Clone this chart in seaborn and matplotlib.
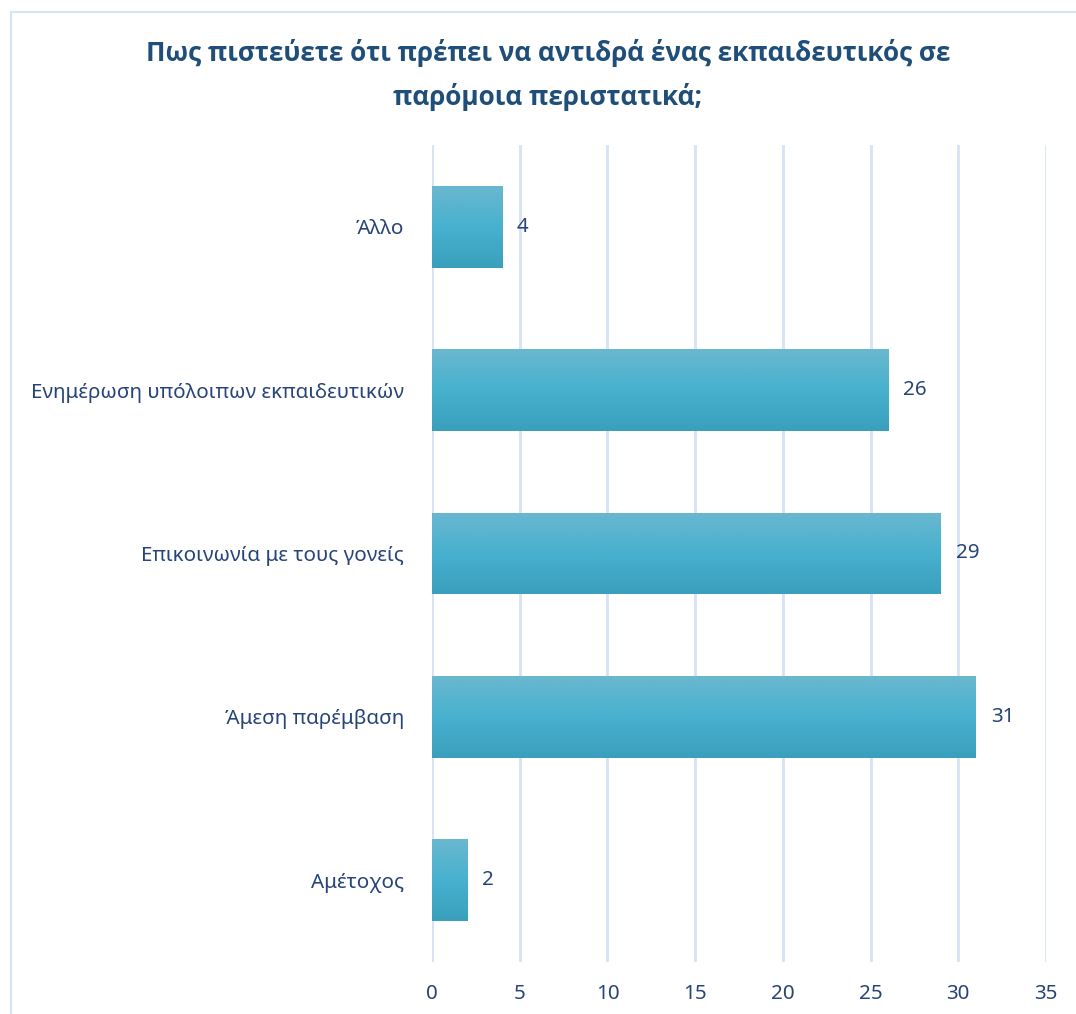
import matplotlib
matplotlib.use("Agg")
import matplotlib.pyplot as plt
import seaborn as sns
import numpy as np
import pandas as pd
from matplotlib.patches import Rectangle
from matplotlib.colors import LinearSegmentedColormap

categories = ["Άλλο", "Ενημέρωση υπόλοιπων εκπαιδευτικών", "Επικοινωνία με τους γονείς",
              "Άμεση παρέμβαση", "Αμέτοχος"]
values = [4, 26, 29, 31, 2]
x_ticks = [0, 5, 10, 15, 20, 25, 30, 35]
title = "Πως πιστεύετε ότι πρέπει να αντιδρά ένας εκπαιδευτικός σε\nπαρόμοια περιστατικά;"

df = pd.DataFrame({"cat": categories, "val": values})

sns.set_theme(style="white")
plt.rcParams['font.family'] = ['Noto Sans', 'DejaVu Sans']

W, H = 1076, 1014
fig = plt.figure(figsize=(W / 100, H / 100), dpi=100)
ax = fig.add_axes([432 / W, 1 - 962 / H, (1046 - 432) / W, (962 - 145) / H])

text_col = "#264478"
grid_col = "#d6e3f2"

sns.barplot(data=df, y="cat", x="val", orient="h", color="#48b0cd", width=0.5, ax=ax, zorder=3)

# gradient fill
cmap = LinearSegmentedColormap.from_list("g", ["#6ab8cf", "#47b1cf", "#3a9fbd"])
grad = np.linspace(0, 1, 256).reshape(-1, 1)
for p in ax.patches:
    x0, y0 = p.get_x(), p.get_y()
    w, h = p.get_width(), p.get_height()
    im = ax.imshow(grad, cmap=cmap, aspect="auto",
                   extent=[x0, x0 + w, y0 + h, y0], zorder=4, origin="upper")
    im.set_clip_path(p)
    p.set_edgecolor("none")

ax.set_xlim(0, 35)
ax.set_ylim(4.5, -0.5)
ax.set_xticks(x_ticks)
ax.set_xticklabels([str(t) for t in x_ticks])
for t in x_ticks:
    ax.axvline(t, color=grid_col, lw=2, zorder=1)

for i, v in enumerate(values):
    ax.text(v + 0.85, i, str(v), va="center", ha="left", fontsize=14.8, color=text_col, zorder=5)

for s in ax.spines.values():
    s.set_visible(False)
ax.tick_params(axis="both", length=0, labelsize=14.8, colors=text_col)
ax.tick_params(axis="x", pad=16)
ax.tick_params(axis="y", pad=20)
ax.set_xlabel("")
ax.set_ylabel("")

fig.text(548 / W, 1 - 75 / H, title, ha="center", va="center",
         fontsize=18.8, fontweight="bold", color="#1f4e79", linespacing=1.7,
         family=['Open Sans', 'DejaVu Sans'])

fig.patches.append(Rectangle((11 / W, -0.1), 1.2, 1 - 12 / H + 0.1, transform=fig.transFigure,
                             fill=False, edgecolor=grid_col, lw=1.5))

fig.savefig("out.png", dpi=100, facecolor="white")
